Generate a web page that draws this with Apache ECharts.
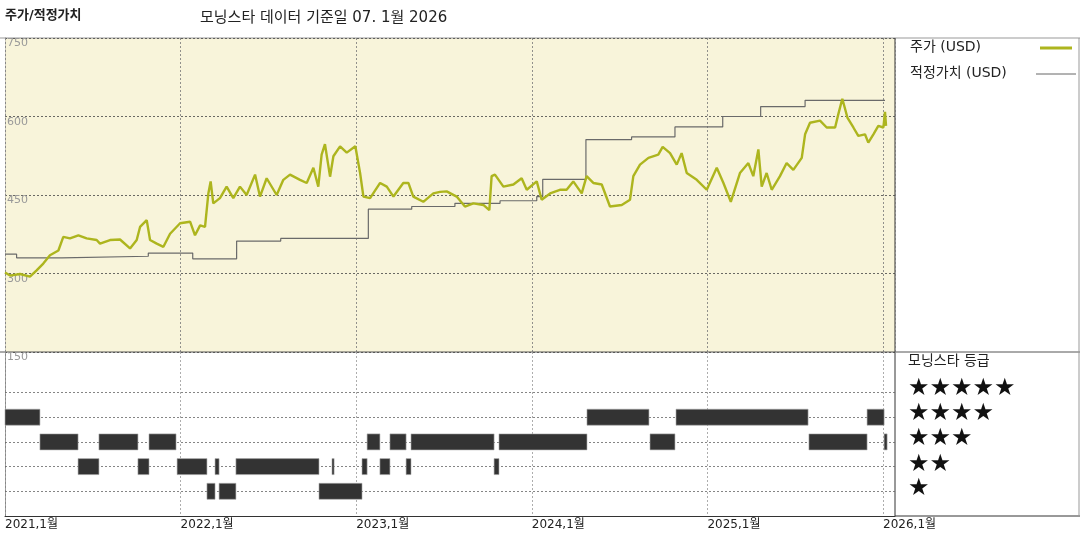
<!DOCTYPE html>
<html><head><meta charset="utf-8">
<script src="https://cdn.jsdelivr.net/npm/echarts@6/dist/echarts.min.js"></script>
<style>html,body{margin:0;background:#fff}#chart{width:1080px;height:540px}</style>
</head><body><div id="chart"></div>
<script>
// price, decimal years
var priceT = [2021.0,2021.029,2021.085,2021.142,2021.180,2021.218,2021.256,2021.304,2021.332,2021.370,2021.418,2021.465,2021.522,2021.541,2021.598,2021.655,2021.712,2021.750,2021.769,2021.807,2021.826,2021.864,2021.902,2021.940,2021.997,
  2022.054,2022.082,2022.111,2022.139,2022.158,2022.171,2022.186,2022.224,2022.262,2022.300,2022.338,2022.376,2022.424,2022.452,2022.490,2022.547,2022.585,2022.623,2022.680,2022.718,2022.756,2022.784,2022.803,2022.822,2022.851,2022.870,2022.908,2022.946,2022.995,
  2023.022,2023.041,2023.079,2023.136,2023.174,2023.212,2023.268,2023.297,2023.325,2023.382,2023.439,2023.477,2023.515,2023.572,2023.619,2023.667,2023.724,2023.758,2023.771,2023.790,2023.838,2023.895,2023.942,2023.971,
  2024.028,2024.056,2024.104,2024.160,2024.198,2024.236,2024.284,2024.312,2024.350,2024.398,2024.445,2024.512,2024.559,2024.578,2024.616,2024.664,2024.720,2024.745,2024.787,2024.825,2024.853,2024.882,2024.939,2024.996,
  2025.053,2025.091,2025.133,2025.185,2025.233,2025.261,2025.290,2025.309,2025.337,2025.366,2025.413,2025.451,2025.489,2025.537,2025.556,2025.584,2025.641,2025.679,2025.727,2025.745,2025.768,2025.797,2025.831,2025.859,2025.897,2025.916,2025.945,2025.973,2026.002,2026.011,2026.017];
var priceV = [302,296,299,294,306,319,335,344,370,367,373,367,364,357,364,365,348,364,389,402,364,357,351,376,396,
  399,373,392,389,453,476,434,444,466,444,466,450,489,447,482,450,479,489,479,473,502,466,527,547,485,524,543,531,543,
  492,447,444,473,466,447,473,473,447,437,453,456,457,447,428,434,431,421,486,489,466,470,482,460,
  476,441,453,460,460,476,453,486,473,470,428,431,441,486,508,521,527,542,530,508,530,492,479,460,
  502,473,437,492,511,486,537,466,492,460,486,511,498,521,566,588,592,579,579,604,634,598,579,563,566,550,566,582,579,609,582];

// fair value, held from each date
var fairT = [2021.0,2021.066,2021.323,2021.816,2022.069,2022.319,2022.570,2023.069,2023.316,2023.562,2023.819,2024.028,2024.062,2024.308,2024.568,2024.815,2025.087,2025.303,2025.556,2026.011];
var fairV = [337,330,333,339,328,362,367,423,428,434,439,447,480,556,561,580,600,619,631,631];

// morningstar rating spans
var ratingStart = [2021.0,2024.314,2024.821,2025.909,
  2021.199,2021.535,2021.820,2023.062,2023.192,2023.312,2023.813,2024.673,2025.578,2026.006,
  2021.416,2021.757,2021.980,2022.196,2022.315,2022.862,2023.033,2023.135,2023.284,2023.785,
  2022.150,2022.219,2022.788];
var ratingEnd = [2021.199,2024.667,2025.573,2026.006,
  2021.416,2021.757,2021.974,2023.135,2023.284,2023.785,2024.314,2024.815,2025.909,2026.023,
  2021.535,2021.820,2022.150,2022.219,2022.788,2022.874,2023.062,2023.192,2023.312,2023.813,
  2022.196,2022.315,2023.033];
var ratingStars = [4,4,4,4, 3,3,3,3,3,3,3,3,3,3, 2,2,2,2,2,2,2,2,2,2, 1,1,1];

var yTicks = [150, 300, 450, 600, 750];

var chart = echarts.init(document.getElementById('chart'));
var priceData = priceT.map(function (t, i) { return [t, priceV[i]]; });
var fairData = fairT.map(function (t, i) { return [t, fairV[i]]; });
var ratingData = ratingStart.map(function (s, i) { return [s, ratingEnd[i], ratingStars[i]]; });
var font = 'DejaVu Sans, Noto Sans CJK KR';
var xMax = 2026.068;

var option = {
    animation: false,
    textStyle: { fontFamily: font },
    grid: [
        { left: 5, right: 185, top: 38, height: 314, backgroundColor: '#f8f4da', show: true, borderWidth: 0 },
        { left: 5, right: 185, top: 352, height: 164, show: false }
    ],
    xAxis: [
        { gridIndex: 0, type: 'value', min: 2021, max: xMax, interval: 1,
          axisLine: { show: false }, axisTick: { show: false }, axisLabel: { show: false },
          splitLine: { lineStyle: { color: '#777', type: [2, 2], width: 0.8 } } },
        { gridIndex: 1, type: 'value', min: 2021, max: xMax, interval: 1,
          axisLine: { show: true, lineStyle: { color: '#333', width: 1 } }, axisTick: { show: false },
          axisLabel: { color: '#222', fontSize: 12, align: 'left', margin: 3, showMaxLabel: true,
                       formatter: function (v) { return Number.isInteger(v) ? v + ',1월' : ''; } },
          splitLine: { lineStyle: { color: '#999', type: [2, 2], width: 0.8 } } }
    ],
    yAxis: [
        { gridIndex: 0, type: 'value', min: 150, max: 750, interval: 150,
          axisLine: { show: true, lineStyle: { color: '#888', type: [2, 2] } }, axisTick: { show: false },
          axisLabel: { inside: true, color: '#999', fontSize: 11, verticalAlign: 'top', margin: 2,
                       formatter: function (v) { return yTicks.indexOf(v) >= 0 ? v : ''; } },
          splitLine: { lineStyle: { color: '#444', type: [2, 2], width: 0.8 } } },
        { gridIndex: 1, type: 'value', min: 0, max: 6.64,
          axisLine: { show: true, lineStyle: { color: '#888', type: [2, 2] } }, axisTick: { show: false },
          axisLabel: { show: false }, splitLine: { show: false } }
    ],
    series: [
        { type: 'line', xAxisIndex: 0, yAxisIndex: 0, data: fairData, step: 'end', showSymbol: false,
          lineStyle: { color: '#6a6a6a', width: 1.2 }, z: 3 },
        { type: 'line', xAxisIndex: 0, yAxisIndex: 0, data: priceData, showSymbol: false,
          lineStyle: { color: '#adb51e', width: 2.4 }, z: 4 },
        { type: 'custom', xAxisIndex: 1, yAxisIndex: 1, data: ratingData,
          renderItem: function (params, api) {
              var a = api.coord([api.value(0), api.value(2)]);
              var b = api.coord([api.value(1), api.value(2)]);
              var w = Math.max(b[0] - a[0], 2);
              return { type: 'rect', shape: { x: a[0], y: a[1] - 8, width: w, height: 16 },
                       style: { fill: '#333', stroke: '#aaa', lineWidth: 0.6 } };
          },
          markLine: { silent: true, symbol: 'none', label: { show: false },
                      lineStyle: { color: '#666', type: [2, 2], width: 0.8 },
                      data: [1, 2, 3, 4, 5].map(function (v) { return { yAxis: v }; }) },
          z: 5 }
    ],
    graphic: [
        { type: 'text', left: 5, top: 9, style: { text: '주가/적정가치', font: 'bold 13px ' + font, fill: '#222' } },
        { type: 'text', left: 200, top: 11, style: { text: '모닝스타 데이터 기준일 07. 1월 2026', font: '15px ' + font, fill: '#222' } },
        { type: 'line', shape: { x1: 0, y1: 38, x2: 1080, y2: 38 }, style: { stroke: '#999', lineWidth: 1 } },
        { type: 'line', shape: { x1: 0, y1: 352, x2: 1080, y2: 352 }, style: { stroke: '#555', lineWidth: 1 } },
        { type: 'line', shape: { x1: 895, y1: 38, x2: 895, y2: 516 }, style: { stroke: '#333', lineWidth: 1 } },
        { type: 'line', shape: { x1: 895, y1: 516, x2: 1080, y2: 516 }, style: { stroke: '#333', lineWidth: 1 } },
        { type: 'line', shape: { x1: 1079, y1: 38, x2: 1079, y2: 516 }, style: { stroke: '#999', lineWidth: 1 } },
        { type: 'text', left: 910, top: 40, style: { text: '주가 (USD)', font: '14px ' + font, fill: '#222' } },
        { type: 'line', shape: { x1: 1040, y1: 48, x2: 1072, y2: 48 }, style: { stroke: '#adb51e', lineWidth: 3 } },
        { type: 'text', left: 910, top: 66, style: { text: '적정가치 (USD)', font: '14px ' + font, fill: '#222' } },
        { type: 'line', shape: { x1: 1036, y1: 74, x2: 1076, y2: 74 }, style: { stroke: '#666', lineWidth: 1 } },
        { type: 'text', left: 908, top: 354, style: { text: '모닝스타 등급', font: '14px ' + font, fill: '#222' } },
        { type: 'text', left: 908, top: 377, style: { text: '★★★★★', font: '24px ' + font, fill: '#111' } },
        { type: 'text', left: 908, top: 402, style: { text: '★★★★', font: '24px ' + font, fill: '#111' } },
        { type: 'text', left: 908, top: 427, style: { text: '★★★', font: '24px ' + font, fill: '#111' } },
        { type: 'text', left: 908, top: 453, style: { text: '★★', font: '24px ' + font, fill: '#111' } },
        { type: 'text', left: 908, top: 477, style: { text: '★', font: '24px ' + font, fill: '#111' } }
    ]
};
chart.setOption(option);
</script></body></html>
